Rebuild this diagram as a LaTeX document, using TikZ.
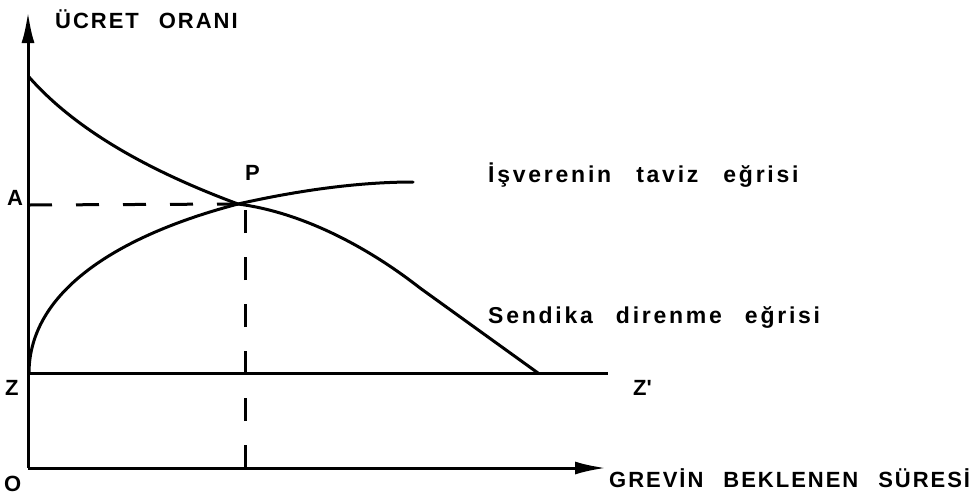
\documentclass[tikz,border=0pt]{standalone}
\usepackage{fontspec}
\setmainfont{Liberation Sans}[LetterSpace=9,BoldFont={Liberation Sans Bold}]
\newfontfamily\lowerfont{Liberation Sans Bold}[LetterSpace=12]
\usetikzlibrary{arrows.meta}
\newcommand{\wordgap}{\hspace{20pt}}
\newcommand{\widegap}{\hspace{25pt}}
\begin{document}
\begin{tikzpicture}[x=1pt,y=-1pt,
  axis/.style={line width=3pt},
  curve/.style={line width=3pt, line join=round, line cap=round},
  guide/.style={line width=3pt, dash pattern=on 23pt off 24pt},
  lbl/.style={anchor=base west, inner sep=0pt, font=\fontsize{22}{26}\selectfont\bfseries},
  curvelbl/.style={anchor=base west, inner sep=0pt, font=\fontsize{23}{27}\selectfont\lowerfont},
  tip/.style={-{Latex[length=31pt,width=13pt]}}]
\useasboundingbox (0,0) rectangle (975,499);
% key points
\coordinate (O) at (28,468);
\coordinate (ytip) at (28,12);
\coordinate (xtip) at (606,468);
\coordinate (Zl) at (28,373);
\coordinate (Zr) at (608,373);
\coordinate (Al) at (29,205);
\coordinate (P) at (238,204);
\coordinate (Pt) at (245,205);
\coordinate (Pb) at (245,468);
\coordinate (R0) at (29,77);
\coordinate (R1) at (420,288);
\coordinate (R2) at (538,373);
\coordinate (E0) at (29,372);
\coordinate (E1) at (413,182);
% axes
\draw[axis,tip] (O) -- (ytip);
\draw[axis,tip] (O) -- (xtip);
\draw[axis] (Zl) -- (Zr);
% guides
\draw[guide] (Al) -- (P);
\draw[guide] (Pb) -- (Pt);
% union resistance curve
\draw[curve] (R0) .. controls (80,135) and (160,175) .. (P)
  .. controls (300,212) and (365,245) .. (R1) -- (R2);
% employer concession curve
\draw[curve] (E0) .. controls (30,290) and (120,235) .. (P)
  .. controls (300,190) and (360,182) .. (E1);
% labels
\node[lbl] (yl) at (55,28) {ÜCRET\wordgap ORANI};
\node[lbl] (la) at (7,205) {A};
\node[lbl] (lp) at (245,180) {P};
\node[curvelbl] (le) at (488,182) {İşverenin\widegap taviz\widegap eğrisi};
\node[curvelbl] (ls) at (488,323) {Sendika\hspace{23pt}direnme\hspace{23pt}eğrisi};
\node[lbl] (lz) at (5,395) {Z};
\node[lbl] (lzp) at (633,395) {Z\textquotesingle};
\node[lbl] (lo) at (4,491) {O};
\node[lbl] (xl) at (609,487) {GREVİN\hspace{20pt}BEKLENEN\hspace{20pt}SÜRESİ};
\end{tikzpicture}
\end{document}
